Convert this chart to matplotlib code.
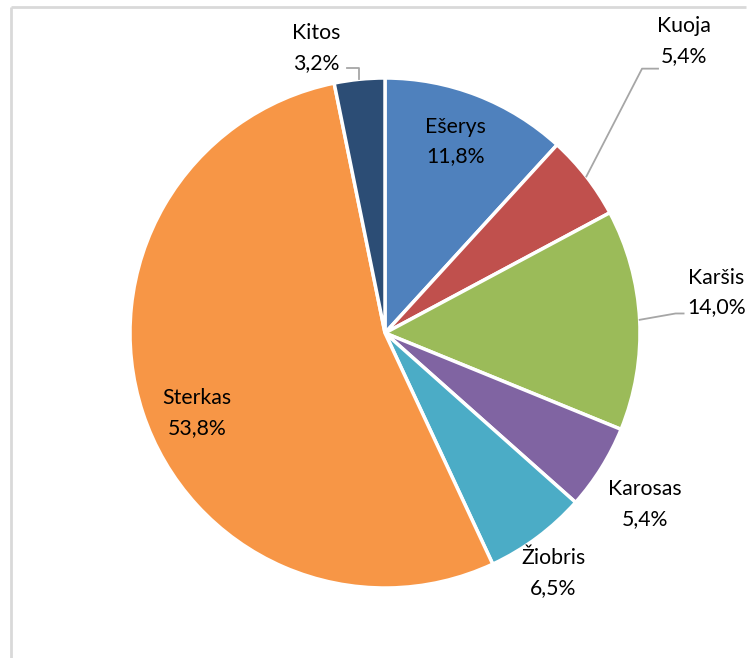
import numpy as np
import matplotlib
matplotlib.use("Agg")
import matplotlib.pyplot as plt

# ── data ──────────────────────────────────────────────
species = ["Ešerys", "Kuoja", "Karšis", "Karosas", "Žiobris", "Sterkas", "Kitos"]
shares = [11.8, 5.4, 14.0, 5.4, 6.5, 53.8, 3.2]
share_labels = ["11,8%", "5,4%", "14,0%", "5,4%", "6,5%", "53,8%", "3,2%"]
colors = ["#4f81bd", "#c0504d", "#9bbb59", "#8064a2", "#4bacc6", "#f79646", "#2c4d75"]

W, H = 752, 658
fig = plt.figure(figsize=(W / 100, H / 100), dpi=100)
ax = fig.add_axes([0, 0, 1, 1])
ax.set_xlim(0, W)
ax.set_ylim(0, H)
ax.set_aspect("equal")
ax.axis("off")

# chart frame (left and top edges visible)
ax.plot([11, 11], [0, H - 7], color="#d9d9d9", lw=2, solid_capstyle="butt")
ax.plot([11, 746], [H - 7, H - 7], color="#d9d9d9", lw=2, solid_capstyle="butt")

cx, cy, R = 385, H - 333, 255
wedges, _ = ax.pie(shares, colors=colors, startangle=90, counterclock=False,
                   center=(cx, cy), radius=R,
                   wedgeprops=dict(edgecolor="white", linewidth=2.5))
ax.set_xlim(0, W)
ax.set_ylim(0, H)

font = dict(family=["Lato", "DejaVu Sans"], fontsize=15.3, color="#000000",
            ha="center", va="center", linespacing=1.62)

# label placement: (radius factor, angle nudge in degrees)
place = [(0.80, 1), (1.64, 6.5), (1.31, 4), (1.22, -1.5), (1.15, -1.7), (0.80, 4.8), (1.15, 7.8)]
gray = "#a6a6a6"

for w, name, pct, (rf, dth) in zip(wedges, species, share_labels, place):
    mid = np.deg2rad((w.theta1 + w.theta2) / 2)
    a = mid + np.deg2rad(dth)
    lx, ly = cx + rf * R * np.cos(a), cy + rf * R * np.sin(a)
    ax.text(lx, ly, f"{name}\n{pct}", **font)

    ex, ey = cx + R * np.cos(mid), cy + R * np.sin(mid)
    if name == "Kuoja":
        ax.plot([ex, lx - 42, lx - 26], [ey, ly - 28, ly - 28], color=gray, lw=1.3)
    elif name == "Karšis":
        ax.plot([ex, lx - 41, lx - 33], [ey, ly - 21, ly - 21], color=gray, lw=1.3)
    elif name == "Kitos":
        ax.plot([lx + 31, ex, ex], [ly - 20, ly - 20, ey], color=gray, lw=1.3)

fig.savefig("out.png", dpi=100)
